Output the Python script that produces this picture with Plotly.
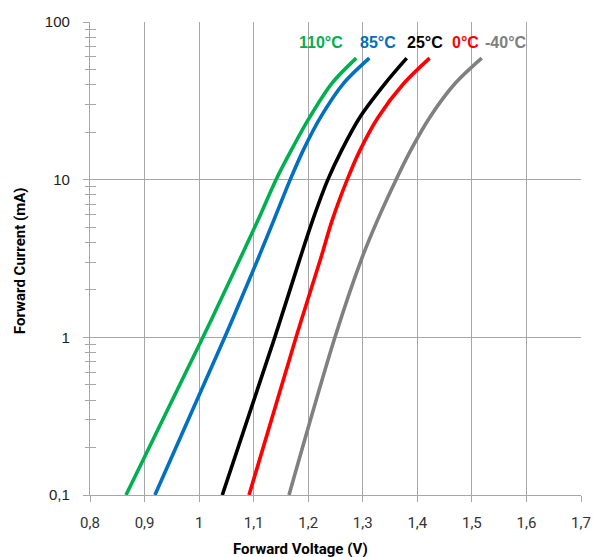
import math
import plotly.graph_objects as go

# Forward current (mA) sample levels
current_mA = [0.1, 1.0, 3.09, 5.54, 10.0, 15.4, 25.0, 40.7, 59.0]

# Forward voltage (V) per temperature
v_110 = [0.866, 1.007, 1.074, 1.108, 1.141, 1.169, 1.203, 1.243, 1.288]
v_85 = [0.919, 1.047, 1.107, 1.137, 1.167, 1.191, 1.223, 1.2644, 1.312]
v_25 = [1.0425, 1.1387, 1.184, 1.2082, 1.236, 1.2614, 1.295, 1.3408, 1.3805]
v_0 = [1.0915, 1.1777, 1.222, 1.244, 1.2715, 1.295, 1.3285, 1.375, 1.4225]
v_m40 = [1.1648, 1.249, 1.297, 1.327, 1.361, 1.388, 1.4233, 1.4691, 1.518]

series_names = ["110°C", "85°C", "25°C", "0°C", "-40°C"]
series_values = [v_110, v_85, v_25, v_0, v_m40]
series_colors = ["#00b050", "#0070c0", "#000000", "#ff0000", "#808080"]
label_x = [1.2235, 1.327, 1.414, 1.488, 1.562]
label_y = 73.6

x_tickvals = [0.8, 0.9, 1.0, 1.1, 1.2, 1.3, 1.4, 1.5, 1.6, 1.7]
x_ticktext = ["0,8", "0,9", "1", "1,1", "1,2", "1,3", "1,4", "1,5", "1,6", "1,7"]
y_tickvals = [0.1, 1, 10, 100]
y_ticktext = ["0,1", "1", "10", "100"]
y_minor = [m * d for d in (0.1, 1, 10) for m in range(2, 10)]

fig = go.Figure()
for name, vals, col in zip(series_names, series_values, series_colors):
    fig.add_trace(go.Scatter(x=vals, y=current_mA, mode="lines", name=name,
                             line=dict(color=col, width=3.6, shape="spline", smoothing=0.9),
                             showlegend=False))
# invisible trace for the overlay axis carrying the inside ticks
fig.add_trace(go.Scatter(x=[1.0], y=[1.0], yaxis="y2", mode="markers",
                         marker=dict(opacity=0), showlegend=False, hoverinfo="skip"))

for name, lx, col in zip(series_names, label_x, series_colors):
    fig.add_annotation(x=lx, y=math.log10(label_y), text="<b>" + name + "</b>",
                       showarrow=False, font=dict(family="Liberation Sans", size=16, color=col),
                       xanchor="center", yanchor="middle")

fig.add_annotation(xref="paper", yref="paper", x=0.428, y=-0.114,
                   text="<b>Forward Voltage (V)</b>", showarrow=False,
                   font=dict(family="Roboto", size=15, color="#000"),
                   xanchor="center", yanchor="middle")
fig.add_annotation(xref="paper", yref="paper", x=-0.1426, y=0.4965,
                   text="<b>Forward Current (mA)</b>", showarrow=False, textangle=-90,
                   font=dict(family="Roboto", size=15, color="#000"),
                   xanchor="center", yanchor="middle")

grid = "#a6a6a6"
fig.update_layout(
    width=594, height=557,
    margin=dict(l=90, r=13, t=22, b=62),
    plot_bgcolor="white", paper_bgcolor="white",
    separators=", ",
    hovermode=False,
    xaxis=dict(range=[0.8, 1.7], tickvals=x_tickvals, ticktext=x_ticktext,
               automargin=False,
               showgrid=True, gridcolor=grid, gridwidth=1.3,
               showline=True, linecolor=grid, linewidth=1.3,
               ticks="outside", ticklen=6, tickcolor=grid, tickwidth=1.3,
               ticklabelstandoff=8,
               tickfont=dict(family="Roboto", size=15, color="#333"),
               zeroline=False),
    yaxis=dict(type="log", range=[-1, 2], tickvals=y_tickvals, ticktext=y_ticktext,
               automargin=False,
               showgrid=True, gridcolor=grid, gridwidth=1.3,
               showline=True, linecolor=grid, linewidth=1.3,
               ticks="outside", ticklen=6, tickcolor=grid, tickwidth=1.3,
               ticklabelstandoff=10,
               tickfont=dict(family="Liberation Sans", size=15, color="#222"),
               minor=dict(tickvals=y_minor, ticks="outside", ticklen=4, tickcolor=grid,
                          tickwidth=1.3, showgrid=False),
               zeroline=False),
    yaxis2=dict(type="log", range=[-1, 2], overlaying="y", side="left", anchor="x",
                automargin=False,
                tickvals=y_tickvals, showticklabels=False, showgrid=False, showline=False,
                ticks="inside", ticklen=6, tickcolor=grid, tickwidth=1.3,
                minor=dict(tickvals=y_minor, ticks="inside", ticklen=6, tickcolor=grid,
                           tickwidth=1.3, showgrid=False),
                zeroline=False),
)

fig.write_html("out.html",
               config={"displayModeBar": False},
               post_script="document.body.style.margin='0';"
                           "document.documentElement.style.overflow='hidden';"
                           "document.body.style.overflow='hidden';")
